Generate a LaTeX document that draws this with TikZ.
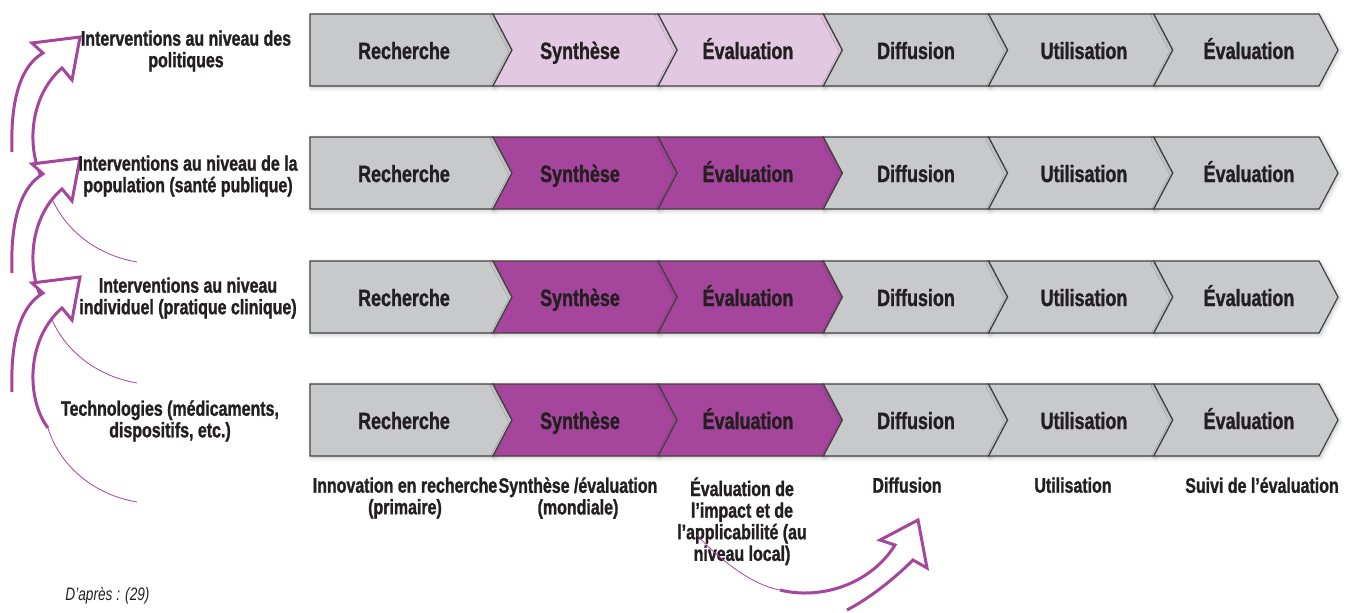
\documentclass[tikz,border=0pt]{standalone}
\usepackage{fontspec}
\setmainfont{Liberation Sans}[FakeStretch=0.76, BoldFeatures={FakeBold=1.2}]
\usetikzlibrary{shadows.blur}

\definecolor{gris}{HTML}{C8C9CB}
\definecolor{rose}{HTML}{E3C8E1}
\definecolor{violet}{HTML}{A5459B}
\definecolor{encre}{HTML}{231F20}

\tikzset{
	chevron/.style={draw=encre!85, line width=0.6pt, line join=miter,
		blur shadow={shadow xshift=0.8pt, shadow yshift=-0.8pt, shadow blur steps=4, shadow opacity=25}},
	etape/.style={font=\fontsize{11.8}{12}\selectfont\bfseries, text=encre, inner sep=0pt, anchor=base},
	legende/.style={font=\fontsize{10.5}{10.8}\selectfont\bfseries, text=encre, align=center, inner sep=0pt},
	fleche/.style={draw=violet, line width=1.5pt, line join=miter},
	trait/.style={draw=violet, line width=0.4pt},
}

\begin{document}
\begin{tikzpicture}[x=0.5pt,y=-0.5pt]
	\useasboundingbox (0,0) rectangle (1352,612);

% Fleches de gauche
	\foreach \t in {37,158,277} {
		\begin{scope}[shift={(80,\t)}]
			\fill[white] (-37,16) -- (-48,6) -- (0,0) -- (-8,43) -- (-18,31) .. controls (-54,62) and (-54,122) .. (-32,151)
				-- (-68,115) .. controls (-70,60) and (-58,28) .. (-37,16) -- cycle;
			\draw[fleche] (-68,115) .. controls (-70,60) and (-58,28) .. (-37,16) -- (-48,6) -- (0,0) -- (-8,43) -- (-18,31)
				.. controls (-54,62) and (-54,122) .. (-32,151);
			\draw[trait] (-32,151) .. controls (-20,190) and (15,218) .. (57,225);
		\end{scope}
	}

% Chevrons
	\foreach \row/\yc/\clair in {1/50/rose, 2/173/violet, 3/297/violet, 4/420/violet} {
		\draw[chevron, fill=gris] (310,\yc-36) -- (493,\yc-36) -- (512,\yc) -- (493,\yc+36) -- (310,\yc+36) -- cycle;
		\foreach \k/\c in {1/\clair, 2/\clair, 3/gris, 4/gris, 5/gris}
			\draw[chevron, fill=\c] ({327.8+165.2*\k},\yc-36) -- ({493+165.2*\k},\yc-36) -- ({512+165.2*\k},\yc)
				-- ({493+165.2*\k},\yc+36) -- ({327.8+165.2*\k},\yc+36) -- ({346.8+165.2*\k},\yc) -- cycle;
		\foreach \k/\x/\txt in {0/404/Recherche, 1/580/Synthèse, 2/748/Évaluation, 3/916/Diffusion, 4/1084/Utilisation, 5/1249/Évaluation}
			\node[etape] (e\row-\k) at (\x,\yc+9) {\txt};
	}

% Niveaux
	\node[legende] (niv1) at (186,51) {Interventions au niveau des\\politiques};
	\node[legende] (niv2) at (188,176) {Interventions au niveau de la\\population (santé publique)};
	\node[legende] (niv3) at (188,298) {Interventions au niveau\\individuel (pratique clinique)};
	\node[legende] (niv4) at (170,421) {Technologies (médicaments,\\dispositifs, etc.)};

% Legendes du bas
	\node[legende, anchor=north] (bas1) at (405,477) {Innovation en recherche\\(primaire)};
	\node[legende, anchor=north] (bas2) at (578,477) {Synthèse /évaluation\\(mondiale)};
	\node[legende, anchor=north] (bas3) at (742,477) {Évaluation de\\l’impact et de\\l’applicabilité (au\\niveau local)};
	\node[legende, anchor=north] (bas4) at (907,477) {Diffusion};
	\node[legende, anchor=north] (bas5) at (1073,477) {Utilisation};
	\node[legende, anchor=north] (bas6) at (1262,477) {Suivi de l’évaluation};

% Fleche du bas
	\fill[white] (780,590) .. controls (820,600) and (870,585) .. (895,545) -- (880,540) -- (918,520) -- (927,568) -- (913,560)
		.. controls (895,578) and (870,598) .. (847,610) -- cycle;
	\draw[fleche] (780,590) .. controls (820,600) and (870,585) .. (895,545) -- (880,540) -- (918,520) -- (927,568) -- (913,560)
		.. controls (895,578) and (870,598) .. (847,610);
	\draw[trait] (697,535) .. controls (715,555) and (750,585) .. (780,590);

	\node[font=\fontsize{9}{10}\selectfont\itshape, text=encre, anchor=west, inner sep=0pt] (source) at (65,596) {D’après : (29)};

\end{tikzpicture}
\end{document}
